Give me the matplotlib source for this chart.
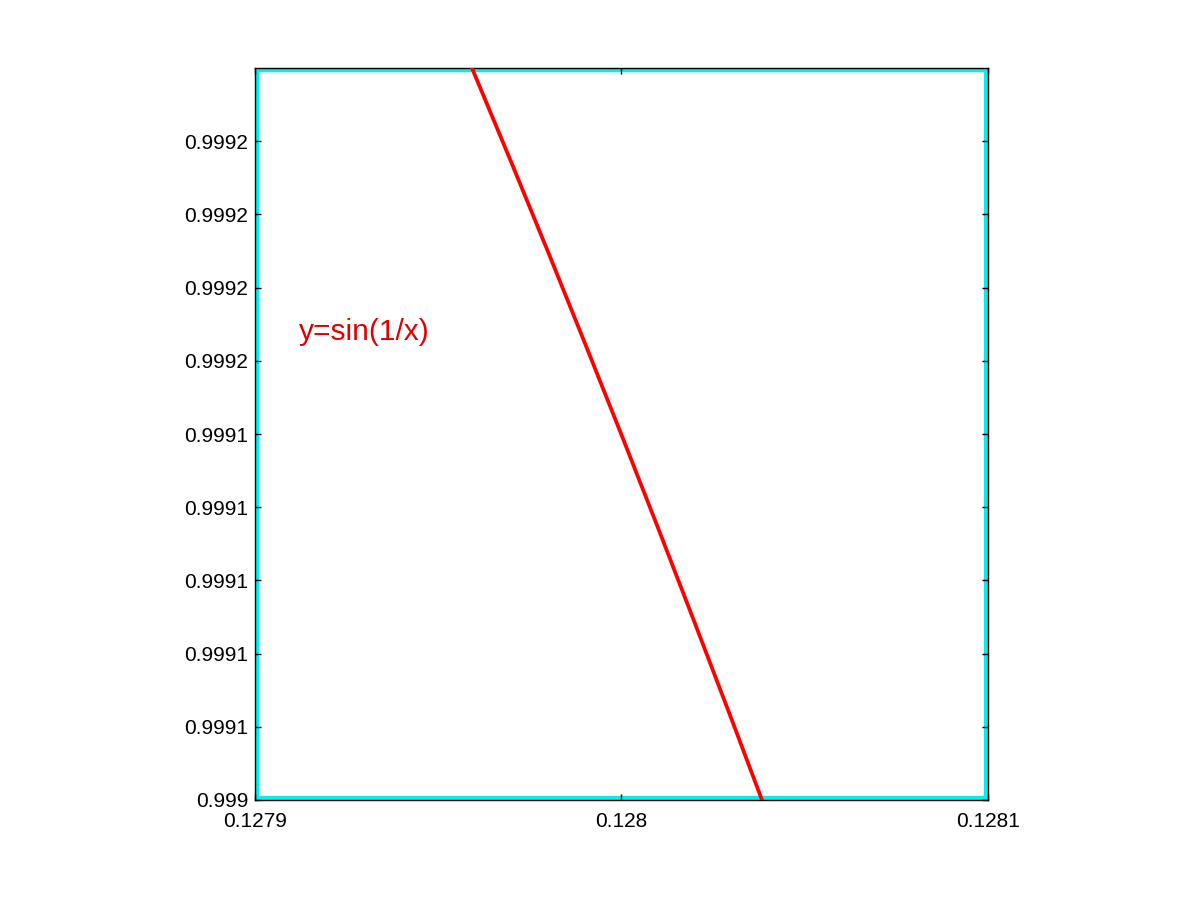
import matplotlib
matplotlib.use('Agg')
import matplotlib.pyplot as plt

x_vals = [0.12795, 0.12796, 0.12797, 0.12798, 0.12799, 0.12800,
          0.12801, 0.12802, 0.12803, 0.12804, 0.12805]
y_vals = [0.9992618, 0.9992381, 0.9992141, 0.9991897, 0.9991649, 0.9991398,
          0.9991143, 0.9990884, 0.9990622, 0.9990356, 0.9990086]

x_limits = [0.1279, 0.1281]
y_limits = [0.99904, 0.99924]
x_ticks = [0.1279, 0.1280, 0.1281]
y_ticks = [0.99904, 0.99906, 0.99908, 0.99910, 0.99912,
           0.99914, 0.99916, 0.99918, 0.99920, 0.99922]
label_text = 'y=sin(1/x)'
label_pos = (0.127912, 0.999168)

plt.rcParams['font.family'] = ['Liberation Sans', 'DejaVu Sans']

fig = plt.figure(figsize=(12.01, 9.01), dpi=100)
ax = fig.add_axes([0.2123, 0.1121, 0.6103, 0.8124])

# cyan frame hugging the plot area
ax.plot([x_limits[0], x_limits[1], x_limits[1], x_limits[0], x_limits[0]],
        [y_limits[0], y_limits[0], y_limits[1], y_limits[1], y_limits[0]],
        color='#00f0f0', linewidth=6, clip_on=True, zorder=1)

ax.plot(x_vals, y_vals, color='red', linewidth=2.7, zorder=3)
ax.text(label_pos[0], label_pos[1], label_text, color='#e00000',
        fontsize=21.5, ha='left', va='center')

ax.set_xlim(x_limits)
ax.set_ylim(y_limits)
ax.set_xticks(x_ticks)
ax.set_yticks(y_ticks)
ax.set_xticklabels(['%.4g' % t for t in x_ticks])
ax.set_yticklabels(['%.4g' % t for t in y_ticks])
ax.tick_params(direction='in', length=4, width=1, top=True, right=True,
               labelsize=15)
ax.tick_params(axis='y', pad=5)
ax.tick_params(axis='x', pad=9)
for s in ax.spines.values():
    s.set_linewidth(1)
    s.set_color('black')

fig.savefig('out.png', dpi=100)
